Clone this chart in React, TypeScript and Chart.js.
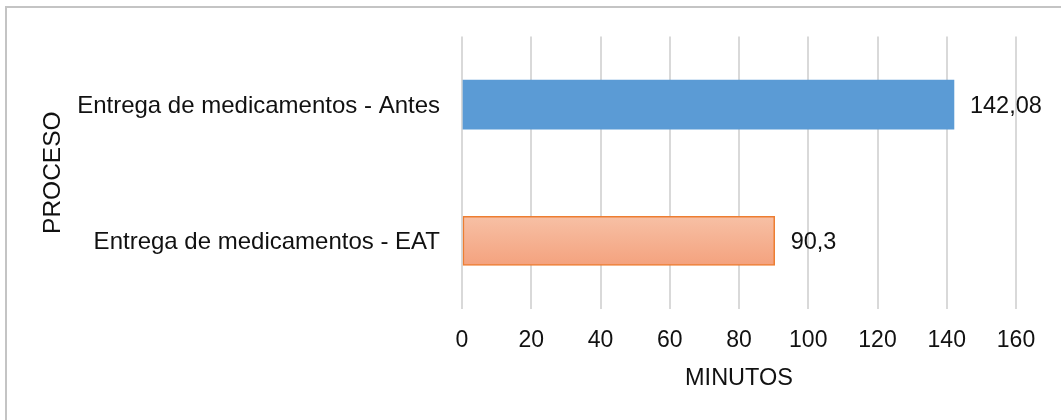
import React, { useEffect, useRef } from "react";
import { Chart, registerables } from "chart.js";

Chart.register(...registerables);

const categories = [
  "Entrega de medicamentos - Antes",
  "Entrega de medicamentos - EAT",
];
const minutes = [142.08, 90.3];
const xTicks = [0, 20, 40, 60, 80, 100, 120, 140, 160];
const xTitle = "MINUTOS";
const yTitle = "PROCESO";

const FONT = "'Liberation Sans', Arial, sans-serif";
const TEXT = "#111111";
const GRID = "#d9d9d9";
const BAR_THICKNESS = 49;

const formatValue = (v: number) => String(v).replace(".", ",");

// Writes each bar's value just past its end.
const valueLabels = {
  id: "valueLabels",
  afterDatasetsDraw(chart: any) {
    const { ctx } = chart;
    const meta = chart.getDatasetMeta(0);
    ctx.save();
    ctx.font = `23.5px ${FONT}`;
    ctx.fillStyle = TEXT;
    ctx.textAlign = "left";
    ctx.textBaseline = "middle";
    meta.data.forEach((el: any, i: number) => {
      const v = chart.data.datasets[0].data[i] as number;
      ctx.fillText(formatValue(v), el.x + 16, el.y + 2);
    });
    ctx.restore();
  },
};

export default function App() {
  const canvasRef = useRef<HTMLCanvasElement>(null);

  useEffect(() => {
    const canvas = canvasRef.current;
    if (!canvas) return;

    const barFill = (c: any) => {
      if (c.dataIndex === 0) return "#5b9bd5";
      const chart = c.chart;
      const yScale = chart.scales?.y;
      if (!yScale || !chart.chartArea) return "#f5b090";
      const center = yScale.getPixelForValue(c.dataIndex);
      const g = chart.ctx.createLinearGradient(
        0,
        center - BAR_THICKNESS / 2,
        0,
        center + BAR_THICKNESS / 2
      );
      g.addColorStop(0, "#f7c0a5");
      g.addColorStop(1, "#f4a27e");
      return g;
    };

    const chart = new Chart(canvas, {
      type: "bar",
      data: {
        labels: categories,
        datasets: [
          {
            data: minutes,
            backgroundColor: barFill,
            borderColor: (c: any) => (c.dataIndex === 0 ? "rgba(0,0,0,0)" : "#ed7d31"),
            borderWidth: (c: any) => (c.dataIndex === 0 ? 0 : 1.5),
            borderSkipped: false,
            barThickness: BAR_THICKNESS,
          },
        ],
      },
      options: {
        indexAxis: "y",
        responsive: false,
        animation: false,
        layout: {
          padding: { left: 0, top: 36, right: 45, bottom: 0 },
        },
        plugins: {
          legend: { display: false },
          tooltip: { enabled: false },
        },
        scales: {
          x: {
            type: "linear",
            min: 0,
            max: 160,
            afterBuildTicks: (scale: any) => {
              scale.ticks = xTicks.map((value) => ({ value }));
            },
            afterFit: (scale: any) => {
              scale.height = 111;
            },
            grid: {
              color: GRID,
              lineWidth: 2,
              drawTicks: false,
            },
            border: { display: false },
            ticks: {
              font: { family: FONT, size: 23 },
              color: TEXT,
              padding: 18,
            },
            title: {
              display: true,
              text: xTitle,
              font: { family: FONT, size: 23.5 },
              color: TEXT,
              padding: { top: 0, bottom: 27 },
            },
          },
          y: {
            type: "category",
            afterFit: (scale: any) => {
              scale.width = 462;
            },
            grid: { display: false, drawTicks: false },
            border: { display: false },
            ticks: {
              font: { family: FONT, size: 24 },
              color: TEXT,
              padding: 22,
              // nudge labels slightly down so they sit level with the bars
              labelOffset: 2,
            },
            title: {
              display: true,
              text: yTitle,
              font: { family: FONT, size: 24.5 },
              color: TEXT,
              padding: { top: 39, bottom: 0 },
            },
          },
        },
      },
      plugins: [valueLabels],
    });

    return () => chart.destroy();
  }, []);

  return (
    <div
      style={{
        position: "fixed",
        left: 0,
        top: 0,
        width: 1061,
        height: 420,
        overflow: "hidden",
        background: "#ffffff",
      }}
    >
      <canvas ref={canvasRef} width={1061} height={420} style={{ display: "block" }} />
      <div
        style={{
          position: "absolute",
          left: 5,
          top: 6,
          width: 1100,
          height: 500,
          border: "2px solid #c4c4c4",
          pointerEvents: "none",
        }}
      />
    </div>
  );
}
